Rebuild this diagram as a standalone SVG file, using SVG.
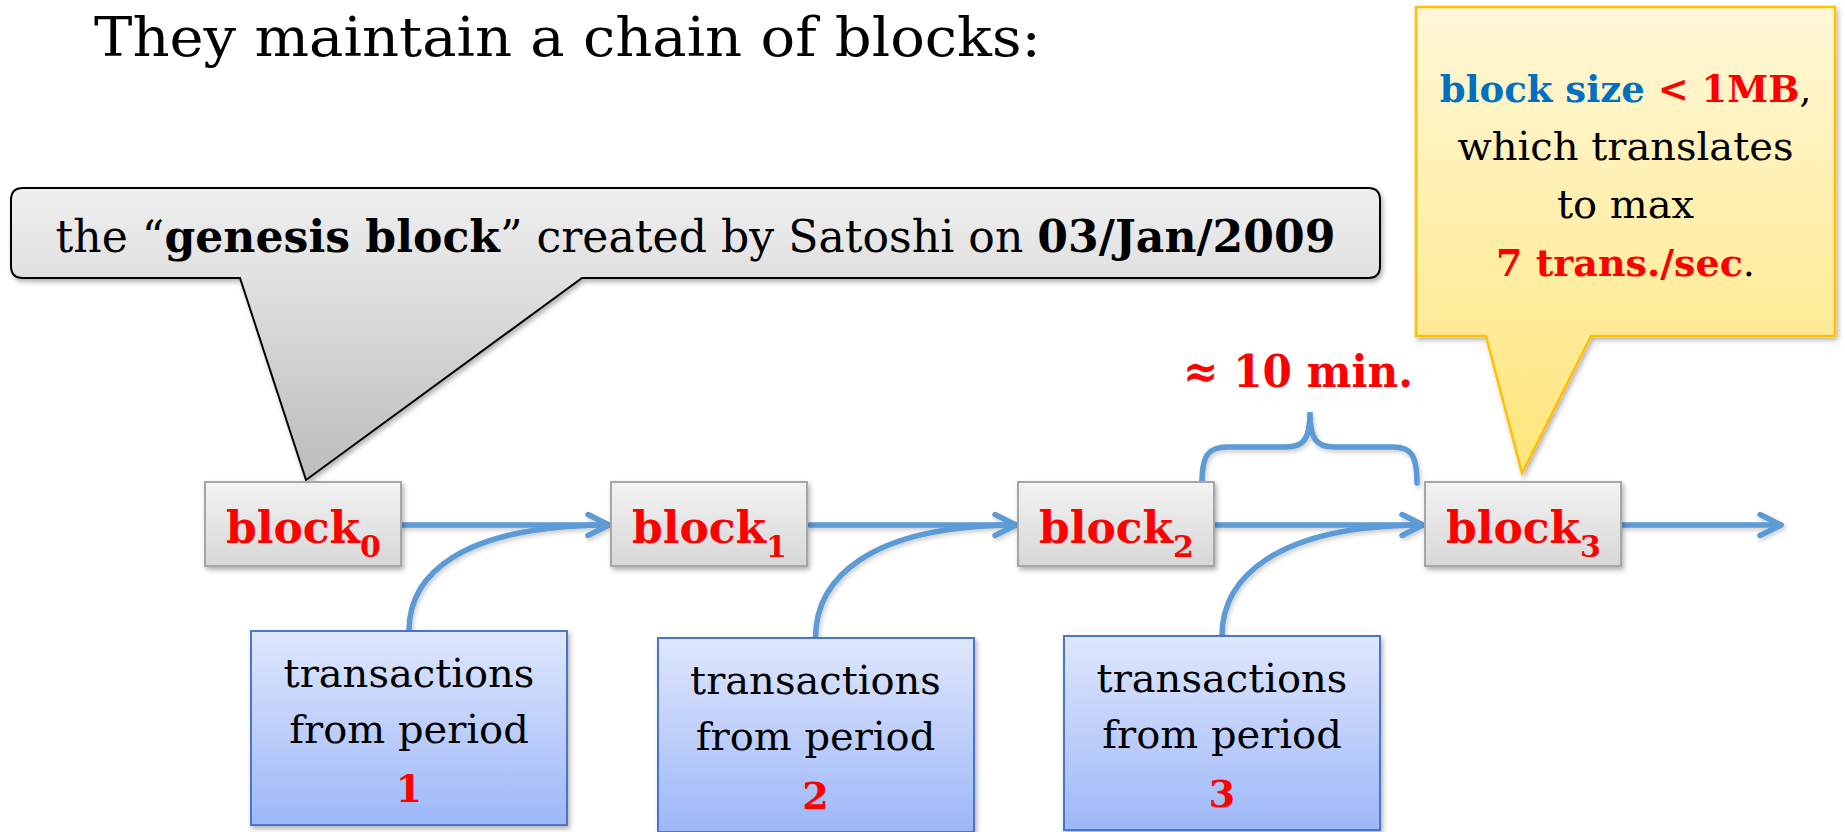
<svg xmlns="http://www.w3.org/2000/svg" width="1845" height="832" viewBox="0 0 1845 832">
<style>
text{font-family:"DejaVu Serif","Liberation Serif",serif;fill:#000}
.b{font-weight:bold}
.red{fill:#ff0000}
.blue{fill:#0070c0}
.blk{stroke:#a6a6a6;stroke-width:2;fill:url(#gBlk)}
.tx{stroke:#4a76c9;stroke-width:2;fill:url(#gTx)}
.con{fill:none;stroke:#5b9bd5;stroke-width:5.5;stroke-linecap:round}
.lbl{font-size:44px;font-weight:bold;fill:#ff0000}
.sub{font-size:30px}
.txt{font-size:40px;text-anchor:middle}
.num{font-size:38px;font-weight:bold;fill:#ff0000}
</style>
<defs>
<linearGradient id="gBlk" x1="0" y1="0" x2="0" y2="1"><stop offset="0" stop-color="#f3f3f3"/><stop offset="1" stop-color="#d7d7d7"/></linearGradient>
<linearGradient id="gTx" x1="0" y1="0" x2="0" y2="1"><stop offset="0" stop-color="#dfe7fd"/><stop offset="1" stop-color="#9db7f8"/></linearGradient>
<linearGradient id="gGen" gradientUnits="userSpaceOnUse" x1="0" y1="188" x2="0" y2="480"><stop offset="0" stop-color="#f0f0f0"/><stop offset="1" stop-color="#bcbcbc"/></linearGradient>
<linearGradient id="gYel" gradientUnits="userSpaceOnUse" x1="0" y1="7" x2="0" y2="473"><stop offset="0" stop-color="#fff8d8"/><stop offset="1" stop-color="#ffe57a"/></linearGradient>
<filter id="sh" x="-10%" y="-10%" width="130%" height="140%"><feDropShadow dx="2" dy="3" stdDeviation="2.5" flood-color="#000" flood-opacity="0.3"/></filter>
<filter id="shl" x="-10%" y="-30%" width="130%" height="180%"><feDropShadow dx="1.5" dy="2.5" stdDeviation="2" flood-color="#000" flood-opacity="0.2"/></filter>
<marker id="ah" viewBox="-30 -16 40 32" refX="0" refY="0" markerWidth="40" markerHeight="32" markerUnits="userSpaceOnUse" orient="auto">
<path d="M-21,-10.5 L0,0 L-21,10.5" fill="none" stroke="#5b9bd5" stroke-width="5.5" stroke-linecap="round" stroke-linejoin="round"/>
</marker>
</defs>
<rect width="1845" height="832" fill="#fff"/>

<text id="title" x="94" y="56" font-size="54" textLength="947" lengthAdjust="spacingAndGlyphs">They maintain a chain of blocks:</text>

<g id="genesis-callout">
<path d="M23,188 H1368 Q1380,188 1380,200 V266 Q1380,278 1368,278 H582 L306,480 L240,278 H23 Q11,278 11,266 V200 Q11,188 23,188 Z" fill="url(#gGen)" stroke="#000" stroke-width="2" filter="url(#sh)"/>
<text x="695.5" y="252" font-size="44" text-anchor="middle" textLength="1280" lengthAdjust="spacingAndGlyphs">the “<tspan class="b">genesis block</tspan>” created by Satoshi on <tspan class="b">03/Jan/2009</tspan></text>
</g>

<g id="size-callout">
<path d="M1416,7 H1835 V336 H1591 L1522,473 L1486,336 H1416 Z" fill="url(#gYel)" stroke="#ffc000" stroke-width="2.5" filter="url(#sh)"/>
<text x="1625.5" y="102" font-size="37" text-anchor="middle"><tspan class="b blue">block size</tspan><tspan class="b red"> &lt; 1MB</tspan>,</text>
<text class="txt" x="1625.5" y="160">which translates</text>
<text class="txt" x="1625.5" y="218">to max</text>
<text x="1625.5" y="276" font-size="38" text-anchor="middle"><tspan class="b red">7 trans./sec</tspan>.</text>
</g>

<g id="connectors">
<g filter="url(#shl)">
<line class="con" x1="403" y1="525" x2="609" y2="525" marker-end="url(#ah)"/>
<line class="con" x1="810" y1="525" x2="1016" y2="525" marker-end="url(#ah)"/>
<line class="con" x1="1216" y1="525" x2="1423" y2="525" marker-end="url(#ah)"/>
<line class="con" x1="1623" y1="525" x2="1781" y2="525" marker-end="url(#ah)"/>
<path class="con" d="M409,631 C409,575 460,526 607,525"/>
<path class="con" d="M815.5,638 C815.5,580 867,526 1014,525"/>
<path class="con" d="M1222,636 C1222,579 1274,526 1421,525"/>
<path class="con" stroke-width="5" d="M1202,483 C1202,455 1208,447 1228,447 L1286,447 C1303,447 1310,440 1310,412 C1310,440 1317,447 1334,447 L1393,447 C1411,447 1417,455 1417,483"/>
</g>
</g>

<text id="ten-min" x="1183" y="387" font-size="45" class="b red" textLength="230" lengthAdjust="spacingAndGlyphs">≈ 10 min.</text>

<g id="block0">
<rect class="blk" x="205" y="482" width="196" height="84" filter="url(#sh)"/>
<text class="lbl" x="226" y="543">block<tspan class="sub" dy="14">0</tspan></text>
</g>
<g id="block1">
<rect class="blk" x="611" y="482" width="196" height="84" filter="url(#sh)"/>
<text class="lbl" x="632" y="543">block<tspan class="sub" dy="14">1</tspan></text>
</g>
<g id="block2">
<rect class="blk" x="1018" y="482" width="196" height="84" filter="url(#sh)"/>
<text class="lbl" x="1039" y="543">block<tspan class="sub" dy="14">2</tspan></text>
</g>
<g id="block3">
<rect class="blk" x="1425" y="482" width="196" height="84" filter="url(#sh)"/>
<text class="lbl" x="1446" y="543">block<tspan class="sub" dy="14">3</tspan></text>
</g>

<g id="tx1">
<rect class="tx" x="251" y="631" width="316" height="194" filter="url(#sh)"/>
<text class="txt" x="409" y="687">transactions</text>
<text class="txt" x="409" y="743">from period</text>
<text class="num" x="409" y="802" text-anchor="middle">1</text>
</g>
<g id="tx2">
<rect class="tx" x="658" y="638" width="316" height="194" filter="url(#sh)"/>
<text class="txt" x="815.5" y="694">transactions</text>
<text class="txt" x="815.5" y="750">from period</text>
<text class="num" x="815.5" y="809" text-anchor="middle">2</text>
</g>
<g id="tx3">
<rect class="tx" x="1064" y="636" width="316" height="194" filter="url(#sh)"/>
<text class="txt" x="1222" y="692">transactions</text>
<text class="txt" x="1222" y="748">from period</text>
<text class="num" x="1222" y="807" text-anchor="middle">3</text>
</g>
</svg>
